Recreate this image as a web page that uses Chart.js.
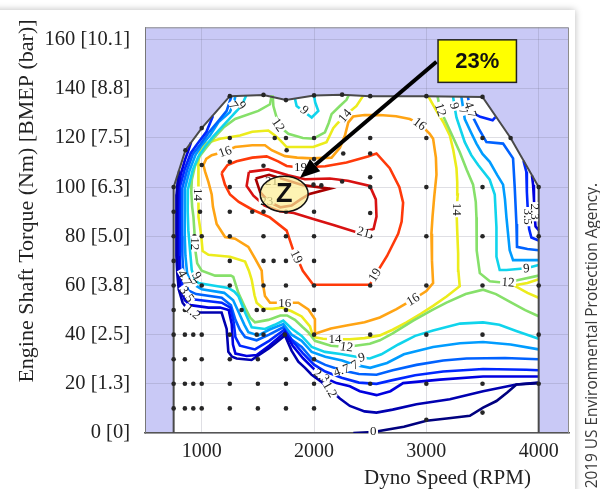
<!DOCTYPE html>
<html>
<head>
<meta charset="utf-8">
<script src="https://cdn.jsdelivr.net/npm/chart.js@4.4.1/dist/chart.umd.min.js"></script>
<style>
  html, body { margin: 0; padding: 0; background: #fff; overflow: hidden; }
  #card { position: absolute; left: -20px; top: 10px; width: 595px; height: 520px; background: #fff; box-shadow: 0 0 7px rgba(0,0,0,0.28); }
  #wrap { position: absolute; left: 0; top: 0; width: 600px; height: 489px; }
</style>
</head>
<body>
<div id="card"></div>
<div id="wrap"><canvas id="c" width="600" height="489"></canvas></div>
<script>
// Axis ticks
const RPM_TICKS = [1000, 2000, 3000, 4000];
const TORQUE_TICKS = [0, 20, 40, 60, 80, 100, 120, 140, 160];
const BMEP_TICKS = ['0', '1.3', '2.5', '3.8', '5.0', '6.3', '7.5', '8.8', '10.1'];

// Full-load torque curve [rpm, Nm]
const envelope = [[750,0],[750,100],[855,115],[1000,124],[1250,137],[1550,137.5],[1750,135.4],[2000,137.3],[2250,137.6],[2500,137],[3000,137],[3500,136.7],[3750,120],[4000,100],[4000,0]];

// Measured operating points [rpm, Nm]
const testPoints = [
  [750,10],[850,10],[925,10],[1000,10],[1250,10],[1500,10],[1750,10],[2000,10],
  [750,20],[850,20],[925,20],[1000,20],[1250,20],[1500,20],[1750,20],[2000,20],[2500,20],[3000,20],[3500,20],[4000,20],
  [750,30],[850,30],[1000,30],[1250,30],[1500,30],[1750,30],[2000,30],
  [750,40],[850,40],[925,40],[1000,40],[1250,40],[1490,40],[1550,40],[1740,40],[2000,40],[2500,40],[3000,40],[3500,40],[4000,40],
  [750,50],[850,50],[1355,50],[1490,50],[1550,50],[1750,50],[2000,50],
  [750,60],[1000,60],[1250,60],[1550,60],[1750,60],[2000,60],[2500,60],[3000,60],[3500,60],[4000,60],
  [750,70],[1250,70],[1550,70],[1640,70],[1750,70],[2000,70],
  [750,80],[935,80],[1000,80],[1250,80],[1550,80],[1750,80],[2000,80],[2500,80],[3000,80],[3500,80],[4000,80],
  [750,90],[985,90],[1250,90],[1450,90],[1550,90],[1750,90],[2000,90],[2500,89.5],
  [750,100],[1250,100],[1995,101],[2065,100.7],[2250,102.3],[2500,100],[2500,104],[3000,100],[3500,100],[4000,100],
  [1000,109],[1250,110.3],[1550,108.7],[2000,111.4],[2260,113.7],[2500,113.7],[1756,115],[855,115],
  [1250,120],[1650,120],[1750,120],[2000,120],[2500,120],[3000,120],[3500,120],[3750,120],
  [1000,124],[1250,137],[1550,137.5],[1750,135.4],[2000,137.3],[2250,137.6],[2500,137],[3000,137],[3500,136.7],
  [3000,5.4],[3500,8.3]
];

// Brake thermal efficiency contours (%), each a list of polylines [rpm, Nm]
const eff_0 = [
  [[2350,0],[2527,0.4],[2800,2.5],[3001,5],[3200,6],[3387,7],[3505,10.3],[3624,13],[3720,16.5],[3802,19.7],[4000,20.3]]
];
const eff_1_2 = [
  [[800,106.8],[785,102],[776,97],[774,90],[774,80],[776,72],[782,65],[795,58.5],[830,53],[880,50],[926,49],[1059,49],[1177,49],[1222,42.3],[1237,33],[1270,31],[1311,30.3],[1444,29.7],[1600,34.5],[1741,39.7],[1800,33.5],[1860,29],[1920,26.5],[1979,23.7],[2060,21],[2141,17.7],[2230,14],[2319,11],[2450,8.8],[2556,8.3],[2700,9.5],[2912,11.7],[3209,13.7],[3505,17],[3801,19.7],[4000,20.5]]
];
const eff_2_3 = [
  [[905,118.2],[880,114.8],[850,111],[815,105.5],[792,100],[788,90],[788,80],[790,72],[797,64],[815,58],[850,54],[900,52],[1060,51],[1163,51],[1240,50],[1267,44.3],[1278,36],[1300,32.3],[1400,31.3],[1489,31.7],[1600,35.5],[1741,41],[1810,35.5],[1900,30.5],[2000,26],[2067,23],[2200,20.3],[2319,19],[2408,17],[2556,15.4],[2680,17],[2793,20.3],[3120,21.7],[3505,23],[3890,23],[4000,23]],
  [[3940,104.8],[3950,101],[3958,95],[3963,89],[3972,84],[4000,82.5]]
];
const eff_3_5 = [
  [[1100,128.9],[1042,122.5],[960,117.5],[903,113.9],[850,107.5],[805,100],[803,90],[803,80],[806,70],[815,62],[860,56],[900,54.5],[1178,53],[1255,51],[1285,45],[1300,39],[1340,35.5],[1474,34],[1600,37.5],[1735,42],[1815,37],[1900,32.5],[2000,27.8],[2100,25],[2245,22.5],[2400,20.5],[2556,20],[2700,21.5],[2900,23.5],[3149,25],[3505,26],[3890,25.7],[4000,25.5]],
  [[3865,110.7],[3890,106.3],[3895,98],[3905,89],[3915,83],[3935,79.5],[4000,78.3]],
  [[3420,130],[3480,128.6],[3590,127.2],[3615,128.5]]
];
const eff_4_7 = [
  [[1265,137],[1222,131],[1150,127],[1057,121.9],[990,117.5],[922,113.5],[870,107],[826,99.5],[824,90],[825,80],[828,72],[835,66],[852,62.6],[880,58],[950,56.5],[1178,55],[1260,52],[1300,46],[1340,42],[1386,39],[1489,37.7],[1600,40],[1726,43],[1800,38],[1890,35],[1979,30.3],[2100,27.7],[2245,25.5],[2400,24],[2556,23.7],[2700,25.5],[2912,27.7],[3150,29.5],[3357,30.3],[3700,30.5],[4000,30]],
  [[3370,136.7],[3401,129.7],[3470,123.5],[3535,118.3],[3683,117.7],[3772,111.7],[3787,99.7],[3802,85],[3807,75.7],[3900,74.8],[4000,74.3]]
];
const eff_7 = [
  [[1300,137],[1282,133.7],[1250,130.5],[1150,126.5],[1076,121.2],[1000,117],[944,113],[890,106.5],[850,99.3],[848,90],[850,80],[855,72],[870,65],[900,61.5],[926,60.5],[1000,58.5],[1200,57],[1280,54],[1330,49],[1380,44],[1415,41],[1504,39.7],[1600,42],[1726,44.3],[1800,40],[1890,37.5],[1979,33],[2100,31],[2250,29.5],[2364,27.7],[2500,26.5],[2650,28.5],[2800,32],[3060,35],[3300,36.5],[3505,37],[3750,36],[4000,34]],
  [[3312,136.7],[3342,127.7],[3400,122],[3446,117.7],[3500,113.5],[3564,110.3],[3630,105],[3683,101],[3700,95],[3713,87.7],[3742,74.3],[3772,70.3],[3900,70.3],[4000,70.3]]
];
const eff_9 = [
  [[1830,136],[1845,133],[1979,128.3],[2038,131],[2010,134.5],[2000,137.2]],
  [[1395,137.2],[1356,133.2],[1250,128],[1099,120.4],[1030,116.5],[970,112.4],[920,107],[877,99.1],[875,90.3],[881,82.3],[896,74.3],[911,66.3],[940,62.5],[970,61],[1100,60],[1237,59],[1290,57.5],[1326,55.7],[1386,49],[1445,43],[1563,42.3],[1650,44],[1726,45.7],[1800,42.5],[1890,39.5],[1979,35],[2097,33],[2250,32],[2423,30.6],[2497,30.3],[2600,32],[2750,36],[2900,39.5],[3060,41.7],[3300,44.5],[3505,45],[3650,44],[3800,41.5],[4000,38.3]],
  [[3238,136.8],[3250,133],[3268,128.3],[3342,118.3],[3400,113],[3461,109],[3564,103],[3609,97],[3624,83.7],[3624,71.7],[3653,66.3],[3713,66.3],[3890,67],[4000,68.3]]
];
const eff_12 = [
  [[1623,137.4],[1608,133.7],[1504,131],[1297,127.7],[1200,124.5],[1119,120.5],[1040,116],[980,112.5],[940,108.5],[912,103],[907,98],[915,92],[926,88],[935,82],[941,75],[960,69],[1000,66],[1119,64],[1260,64],[1281,63.5],[1326,57],[1386,51],[1430,47],[1474,45],[1593,46],[1700,47.8],[1760,47.8],[1830,46],[1900,43],[1949,41],[2008,37.5],[2150,35.5],[2289,35],[2497,36.3],[2586,37.7],[2700,40.5],[2883,45.7],[3050,50],[3179,53],[3350,56.5],[3505,58.3],[3620,56.5],[3757,53],[3880,50],[4000,47.5]],
  [[1632,137.3],[1638,133],[1667,128.3],[1700,124.5],[1771,121.7],[1900,120],[1993,119.7],[2097,122.3],[2130,126],[2156,129.7],[2230,133],[2289,135.5],[2310,137.5]],
  [[3100,137],[3120,132],[3149,129],[3220,122],[3297,114.3],[3360,107],[3416,101],[3440,94],[3446,87.7],[3446,80],[3450,74.3],[3476,65],[3565,61.7],[3650,61.3],[3728,61.3],[3850,62.5],[4000,64]]
];
const eff_14 = [
  [[2438,137.2],[2378,133],[2275,129],[2200,125.5],[2171,124],[2140,121],[2111,118.3],[1993,116.3],[1850,116.3],[1756,116.3],[1700,119],[1652,121],[1593,123],[1450,122.5],[1341,121],[1163,119.7],[1029,117.7],[985,114.5],[970,110.3],[968,102],[970,97],[975,88],[990,82],[1000,78],[1008,74],[1060,72.5],[1252,71.7],[1386,69.7],[1420,66],[1445,62.3],[1470,56],[1489,53],[1549,50.6],[1630,50.5],[1712,51],[1800,49.5],[1890,47.4],[1964,43.4],[1993,39],[2080,38.3],[2186,38.1],[2319,38.1],[2450,38.6],[2586,39.7],[2700,42],[2823,45],[2950,48.5],[3060,51.7],[3180,55.5],[3297,59.7],[3285,66],[3283,73],[3275,82],[3268,91],[3280,97],[3275,102],[3268,107.7],[3240,115],[3209,121],[3150,126.5],[3090,131],[3016,137]],
  [[4000,62.5],[3900,61],[3780,60],[3900,57],[4000,55]]
];
const eff_16 = [
  [[1015,109],[1040,111.5],[1089,113],[1208,114.5],[1297,116.3],[1450,117],[1563,117],[1623,115],[1741,112.6],[1850,112],[1979,111.7],[2156,112],[2230,116],[2275,121],[2305,126.3],[2348,128.7],[2450,129.3],[2586,129.3],[2730,128.8],[2852,127.7],[2941,125.7],[3030,121.7],[3060,119.7],[3085,112],[3090,105],[3070,96],[3055,88],[3045,81],[3050,70],[3060,61],[3000,57.7],[2882,54.3],[2734,50.4],[2586,47],[2450,45],[2289,43.7],[2150,42.5],[2002,40.3],[2008,46.3],[1949,50.3],[1860,53],[1740,53],[1608,53],[1563,55.7],[1540,62],[1534,66],[1474,71],[1415,75.7],[1297,79],[1208,79.7],[1133,85],[1100,92],[1089,97],[1060,102],[1030,106.3],[1015,109]]
];
const eff_19 = [
  [[1177,105.7],[1230,109],[1311,110.5],[1450,112],[1578,112.5],[1680,110.5],[1756,108.6],[1874,108],[2100,108.5],[2289,110],[2480,112.5],[2556,113.7],[2674,107.7],[2760,100],[2793,93.7],[2780,86],[2749,81],[2650,72],[2556,65],[2497,60.3],[2200,60.3],[1993,60.3],[1900,66],[1845,71.7],[1815,74.3],[1756,82.3],[1607,87.7],[1444,91],[1330,94],[1252,97],[1207,101],[1177,105.7]]
];
const eff_21 = [
  [[1420,106.2],[1590,107.2],[1770,104.8],[1920,103.2],[2141,103.5],[2300,102.6],[2497,100.5],[2550,95],[2556,88],[2530,83],[2437,81.7],[2378,81.7],[2180,84.5],[1993,87],[1820,89.5],[1696,90.2],[1560,92.5],[1460,96.5],[1400,100.5],[1420,106.2]]
];
const eff_23 = [
  [[1480,103.5],[1600,105],[1760,102.8],[1900,100.8],[2141,99.4],[1960,97.2],[1880,95],[1800,92.5],[1700,91.8],[1600,94],[1520,98],[1480,103.5]]
];

// Contour label placements: [text, rpm, Nm, angle in degrees]
const CONTOUR_LABELS = [
  ['16',1208,114.4,-20],['16',2941,125.7,37],['16',2882,54.3,-31],['16',1740,53,0],
  ['14',2275,129,-50],['14',3270,91,90],['14',970,97,90],['14',2186,38.1,0],
  ['12',1682,125.3,55],['12',941,77,90],['12',2289,35,8],['12',3728,61.3,4],['12',3125,131.5,72],
  ['19',1845,71.7,64],['19',2541,64.3,-58],['19',1880,108,0],
  ['21',2440,81.7,15],['21',1622,102.5,0],['23',1578,94.3,0],
  ['9',1915,131.3,40],['9',2423,30.8,-15],['9',3890,67,-5],['9',955,64,60],['9',1356,133.2,50],['9',3250,133,75],
  ['7',2364,27.7,-30],['7',1282,133.2,55],['7',3330,131,72],['7',916,60.9,50],
  ['4.7',2245,25.5,-20],['4.7',848,63,60],['4.7',3392,131.5,72],
  ['3.5',868,56.5,55],['3.5',3905,88,90],
  ['2.3',2067,23.2,35],['2.3',3964,90,90],
  ['1.2',2141,17.7,60],['1.2',920,49.3,40],
  ['0',2527,0.6,0]
];

// Contour levels with their line colours
const CONTOURS = [
  [0, eff_0, '#00007f'],
  [1.2, eff_1_2, '#0000b0'],
  [2.3, eff_2_3, '#0000e0'],
  [3.5, eff_3_5, '#0028ff'],
  [4.7, eff_4_7, '#0062ff'],
  [7, eff_7, '#009cff'],
  [9, eff_9, '#10d4ec'],
  [12, eff_12, '#86e06a'],
  [14, eff_14, '#ecec1c'],
  [16, eff_16, '#ffa414'],
  [19, eff_19, '#ff3a0a'],
  [21, eff_21, '#d81212'],
  [23, eff_23, '#a80000']
];

const toXY = pts => pts.map(([x, y]) => ({ x, y }));

const datasets = [
  { data: toXY(testPoints), pointRadius: 2.3, pointBackgroundColor: '#262626', pointBorderWidth: 0, showLine: false },
  { data: toXY(envelope), showLine: true, borderColor: '#4a4a4a', borderWidth: 2, pointRadius: 0, fill: false }
];
CONTOURS.forEach(([level, segments, color]) => {
  segments.forEach(seg => {
    datasets.push({ data: toXY(seg), showLine: true, borderColor: color, borderWidth: 2.6, pointRadius: 0, fill: false, tension: 0 });
  });
});

const pix = (chart, r, t) => [chart.scales.x.getPixelForValue(r), chart.scales.y.getPixelForValue(t)];

const mapPlugin = {
  id: 'effMap',
  beforeDraw(chart) {
    const { ctx, chartArea: a } = chart;
    ctx.save();
    ctx.fillStyle = '#c9c9f6';
    ctx.fillRect(a.left, a.top, a.right - a.left, a.bottom - a.top);
    ctx.beginPath();
    envelope.forEach(([r, t], i) => {
      const [x, y] = pix(chart, r, t);
      if (i) ctx.lineTo(x, y); else ctx.moveTo(x, y);
    });
    ctx.closePath();
    ctx.fillStyle = '#ffffff';
    ctx.fill();
    ctx.restore();
  },
  afterDatasetsDraw(chart) {
    const { ctx } = chart;
    ctx.save();
    ctx.font = '13px "Liberation Serif"';
    ctx.textAlign = 'center';
    ctx.textBaseline = 'middle';
    CONTOUR_LABELS.forEach(([txt, r, t, ang]) => {
      const [x, y] = pix(chart, r, t);
      const w = ctx.measureText(txt).width;
      ctx.save();
      ctx.translate(x, y);
      ctx.rotate(ang * Math.PI / 180);
      ctx.fillStyle = '#ffffff';
      ctx.fillRect(-w / 2 - 1.5, -3.5, w + 3, 7);
      ctx.fillStyle = '#1c1c1c';
      ctx.fillText(txt, 0, 0.5);
      ctx.restore();
    });
    ctx.restore();
  },
  afterDraw(chart) {
    const { ctx, chartArea: a } = chart;
    ctx.save();
    // light frame on top and right
    ctx.strokeStyle = '#8c8c8c';
    ctx.lineWidth = 1;
    ctx.beginPath();
    ctx.moveTo(a.left, a.top + 0.5); ctx.lineTo(a.right - 0.5, a.top + 0.5); ctx.lineTo(a.right - 0.5, a.bottom);
    ctx.stroke();

    // peak efficiency marker
    const [ex, ey] = pix(chart, 1734, 97.2);
    ctx.beginPath();
    ctx.ellipse(ex, ey, 24, 17.8, 0, 0, Math.PI * 2);
    ctx.fillStyle = 'rgba(252,238,150,0.72)';
    ctx.fill();
    ctx.lineWidth = 1.5;
    ctx.strokeStyle = '#111';
    ctx.stroke();
    ctx.fillStyle = '#111';
    ctx.font = 'bold 27px "Liberation Sans"';
    ctx.textAlign = 'center';
    ctx.textBaseline = 'middle';
    ctx.fillText('Z', ex, ey + 1);

    // callout arrow
    const [sx, sy] = pix(chart, 3090, 151);
    const [tx, ty] = pix(chart, 1874, 103.7);
    const ang = Math.atan2(ty - sy, tx - sx);
    const hl = 20, hw = 8;
    const bx = tx - hl * Math.cos(ang), by = ty - hl * Math.sin(ang);
    ctx.strokeStyle = '#000';
    ctx.lineWidth = 4;
    ctx.beginPath(); ctx.moveTo(sx, sy); ctx.lineTo(bx, by); ctx.stroke();
    ctx.fillStyle = '#000';
    ctx.beginPath();
    ctx.moveTo(tx, ty);
    ctx.lineTo(bx + hw * Math.sin(ang), by - hw * Math.cos(ang));
    ctx.lineTo(bx - hw * Math.sin(ang), by + hw * Math.cos(ang));
    ctx.closePath();
    ctx.fill();

    // callout box
    const [x0, y0] = pix(chart, 3104, 159.9);
    const [x1, y1] = pix(chart, 3802, 142.6);
    ctx.fillStyle = '#ffff00';
    ctx.fillRect(x0, y0, x1 - x0, y1 - y0);
    ctx.lineWidth = 1.5;
    ctx.strokeStyle = '#222';
    ctx.strokeRect(x0, y0, x1 - x0, y1 - y0);
    ctx.fillStyle = '#111';
    ctx.font = 'bold 22px "Liberation Sans"';
    ctx.fillText('23%', (x0 + x1) / 2, (y0 + y1) / 2 + 1);

    // axis titles
    ctx.fillStyle = '#222';
    ctx.font = '21px "Liberation Serif"';
    ctx.textAlign = 'center';
    ctx.textBaseline = 'alphabetic';
    ctx.fillText('Dyno Speed (RPM)', 447.5, 484);
    ctx.save();
    ctx.translate(33, 201);
    ctx.rotate(-Math.PI / 2);
    ctx.font = '22px "Liberation Serif"';
    ctx.fillText('Engine Shaft Torque (Nm) [BMEP (bar)]', 0, 0);
    ctx.restore();

    // credit line
    ctx.save();
    ctx.translate(593, 183);
    ctx.rotate(-Math.PI / 2);
    ctx.font = '15.4px "Open Sans"';
    ctx.fillStyle = '#3a3a3a';
    ctx.textAlign = 'right';
    ctx.textBaseline = 'middle';
    ctx.fillText('\u00A9 2019 US Environmental Protection Agency.', 0, 0);
    ctx.restore();

    ctx.restore();
  }
};

new Chart(document.getElementById('c'), {
  type: 'scatter',
  data: { datasets },
  options: {
    responsive: false,
    devicePixelRatio: 1,
    animation: false,
    events: [],
    layout: { padding: { left: 0, right: 31, top: 19, bottom: 0 } },
    plugins: { legend: { display: false }, tooltip: { enabled: false } },
    scales: {
      x: {
        type: 'linear', min: 495, max: 4270,
        afterBuildTicks: s => { s.ticks = RPM_TICKS.map(v => ({ value: v })); },
        afterFit: s => { s.height = 56; },
        ticks: { color: '#222', font: { family: '"Liberation Serif"', size: 20 }, padding: 7, maxRotation: 0, autoSkip: false, callback: v => String(v) },
        grid: { color: 'rgba(110,110,130,0.22)', drawTicks: false },
        border: { color: '#555', width: 1.5 }
      },
      y: {
        type: 'linear', min: 0, max: 165,
        afterBuildTicks: s => { s.ticks = TORQUE_TICKS.map(v => ({ value: v })); },
        afterFit: s => { s.width = 145; },
        ticks: {
          color: '#222', font: { family: '"Liberation Serif"', size: 20.5 }, padding: 15, autoSkip: false,
          callback: v => `${v} [${BMEP_TICKS[TORQUE_TICKS.indexOf(v)]}]`
        },
        grid: { color: 'rgba(110,110,130,0.22)', drawTicks: false },
        border: { color: '#777', width: 1 }
      }
    }
  },
  plugins: [mapPlugin]
});
</script>
</body>
</html>
